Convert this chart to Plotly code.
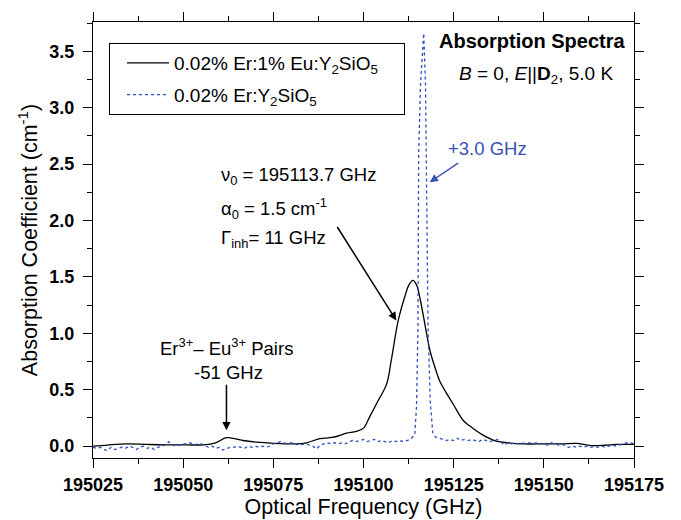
import plotly.graph_objects as go

# ---------------- data ----------------
er_eu_freq = [195025, 195029, 195034.3, 195040, 195045, 195049, 195055.6, 195059,
              195062, 195064.5, 195066.6, 195070.3, 195075, 195081.4, 195084.2, 195087.9,
              195090.7, 195093, 195095.3, 195098, 195100, 195101.7, 195104, 195106.4,
              195107.7, 195109.6, 195111.4, 195112.6, 195113.7, 195114.7, 195115.6,
              195117.0, 195118.4, 195119.8, 195121.1, 195123, 195124.8, 195127.6,
              195129.4, 195133, 195136.8, 195140, 195144.2, 195150, 195155, 195159,
              195163, 195167, 195170, 195175]
er_eu_alpha = [0.00, 0.01, 0.02, 0.015, 0.012, 0.012, 0.012, 0.03,
               0.075, 0.065, 0.05, 0.035, 0.025, 0.02, 0.03, 0.066,
               0.075, 0.09, 0.115, 0.13, 0.16, 0.26, 0.40, 0.55,
               0.76, 1.11, 1.32, 1.43, 1.47, 1.43, 1.32,
               1.085, 0.85, 0.70, 0.58, 0.47, 0.376, 0.23,
               0.18, 0.10, 0.045, 0.03, 0.02, 0.02, 0.02, 0.025,
               0.005, 0.008, 0.015, 0.015]

er_freq = list(range(195025, 195114)) + [195114.2, 195114.7, 195115.1, 195115.2, 195115.3,
           195115.8, 195116.7, 195117.2, 195117.4, 195117.8, 195117.9, 195118.5,
           195119.2, 195120.0] + list(range(195121, 195176))
er_alpha = [
    -0.01, -0.02, -0.01, -0.03, -0.04, -0.01, -0.03, -0.02, -0.01, -0.02,   # 025-034
    0.00, -0.01, -0.03, -0.01, 0.00, -0.02, -0.01, -0.03, -0.01, 0.00,      # 035-044
    0.01, 0.04, 0.01, 0.00, 0.01, 0.02, 0.02, 0.03, 0.01, 0.02,             # 045-054
    0.02, 0.01, -0.01, 0.00, -0.02, -0.01, -0.035, -0.02, -0.01, -0.01,     # 055-064
    0.00, -0.01, -0.02, 0.00, -0.01, 0.00, -0.01, 0.00, -0.01, 0.00,        # 065-074
    0.02, 0.03, 0.04, 0.03, 0.02, 0.03, 0.02, 0.01, 0.015, 0.02,            # 075-084
    0.01, 0.00, -0.025, 0.01, 0.02, 0.03, 0.02, 0.03, 0.02, 0.03,           # 085-094
    0.02, 0.04, 0.05, 0.04, 0.05, 0.06, 0.04, 0.05, 0.06, 0.04,             # 095-104
    0.05, 0.04, 0.03, 0.05, 0.04, 0.05, 0.04, 0.05, 0.06,                   # 105-113
    0.10, 0.35, 1.05, 1.80, 2.60, 3.20, 3.66, 3.20, 2.60, 1.80, 1.05, 0.40,  # peak
    0.12, 0.08,
    0.07, 0.06, 0.05, 0.06, 0.05, 0.07, 0.05, 0.06, 0.05, 0.06,             # 121-130
    0.05, 0.04, 0.06, 0.05, 0.04, 0.05, 0.06, 0.04, 0.01, 0.03,             # 131-140
    0.02, 0.03, 0.02, 0.03, 0.02, 0.03, 0.02, 0.03, 0.02, 0.02,             # 141-150
    0.01, 0.03, 0.02, 0.01, 0.02, 0.00, -0.01, 0.00, -0.01, 0.00,           # 151-160
    -0.01, 0.00, -0.01, 0.00, -0.01, 0.00, -0.01, 0.00, 0.01, 0.00,         # 161-170
    0.01, 0.02, 0.03, 0.03, 0.02,                                           # 171-175
]

x_ticks = [195025, 195050, 195075, 195100, 195125, 195150, 195175]
y_ticks = [0.0, 0.5, 1.0, 1.5, 2.0, 2.5, 3.0, 3.5]

# ---------------- figure ----------------
W, H = 681, 520
L, R, T, B = 93, 47, 22, 62
FONT = "Liberation Sans, Arial, sans-serif"


def px(xp, yp):
    return (xp - L) / (W - L - R), (H - B - yp) / (H - T - B)


fig = go.Figure()
fig.add_trace(go.Scatter(x=er_eu_freq, y=er_eu_alpha, mode="lines", line_shape="spline",
                         line=dict(color="black", width=1.3), legendgroup="a",
                         name="0.02% Er:1% Eu:Y<sub>2</sub>SiO<sub>5</sub>\u00a0\u00a0\u00a0\u00a0"))
fig.add_trace(go.Scatter(x=er_freq, y=er_alpha, mode="lines",
                         line=dict(color="#2f4fc0", width=1.3, dash="dot"), legendgroup="b",
                         name="0.02% Er:Y<sub>2</sub>SiO<sub>5</sub>"))

axis_common = dict(showline=True, linecolor="black", linewidth=1.3, mirror="ticks",
                   ticks="outside", ticklen=9, tickwidth=1.3, tickcolor="black",
                   showgrid=False, zeroline=False, automargin=False,
                   tickfont=dict(family=FONT, size=18, color="black", weight="bold"),
                   title_font=dict(family=FONT, size=21.5, color="black"))

fig.update_xaxes(range=[195025, 195175], tickvals=x_ticks,
                 ticktext=[str(v) for v in x_ticks], ticklabelstandoff=1,
                 minor=dict(ticks="outside", ticklen=5, tickwidth=1.2, tickcolor="black",
                            dtick=12.5, tick0=195025, showgrid=False),
                 title_text="Optical Frequency (GHz)", title_standoff=3, **axis_common)
fig.update_yaxes(range=[-0.105, 3.76], tickvals=y_ticks,
                 ticktext=[f"{v:.1f}" for v in y_ticks], ticklabelstandoff=5,
                 minor=dict(ticks="outside", ticklen=5, tickwidth=1.2, tickcolor="black",
                            dtick=0.25, tick0=0, showgrid=False),
                 title_text="Absorption Coefficient (cm<sup>-1</sup>)", title_standoff=5,
                 **axis_common)

lx, ly = px(109, 43)
fig.update_layout(
    width=W, height=H, margin=dict(l=L, r=R, t=T, b=B, autoexpand=False),
    paper_bgcolor="white", plot_bgcolor="white",
    font=dict(family=FONT, size=18, color="black"),
    legend=dict(x=lx, y=ly, xanchor="left", yanchor="top",
                bordercolor="black", borderwidth=1, bgcolor="white",
                font=dict(family=FONT, size=19, color="black"),
                itemwidth=42, tracegroupgap=4, indentation=12),
)


def text(xp, yp, s, anchor="left", size=18.5, color="black", **kw):
    x, y = px(xp, yp)
    fig.add_annotation(x=x, y=y, xref="paper", yref="paper", text=s, showarrow=False,
                       xanchor=anchor, yanchor="middle",
                       font=dict(family=FONT, size=size, color=color, **kw))


text(627, 41, "<b>Absorption Spectra</b>", anchor="right", size=20)
text(536, 75, "<i>B</i> = 0, <i>E</i>||<b>D</b><sub>2</sub>, 5.0 K", anchor="center", size=19)
text(446, 148, "+3.0 GHz", color="#3a52b4")
text(219, 176, "ν<sub>0</sub> = 195113.7 GHz")
text(219, 208, "α<sub>0</sub> = 1.5 cm<sup>-1</sup>")
text(219, 239, "Γ<sub>inh</sub>= 11 GHz")
text(226, 347, "Er<sup>3+</sup>– Eu<sup>3+</sup> Pairs", anchor="center")
text(228, 372, "-51 GHz", anchor="center")

# arrows
fig.add_annotation(x=195109.1, y=1.114, xref="x", yref="y", ax=-60, ay=-95,
                   showarrow=True, arrowhead=2, arrowsize=1.1, arrowwidth=1.5,
                   arrowcolor="black", text="")
fig.add_annotation(x=195118.35, y=2.34, xref="x", yref="y", ax=30, ay=-20,
                   showarrow=True, arrowhead=2, arrowsize=1.1, arrowwidth=1.5,
                   arrowcolor="#3a52b4", text="")
fig.add_annotation(x=195062.0, y=0.14, xref="x", yref="y", ax=0, ay=-47,
                   showarrow=True, arrowhead=2, arrowsize=1.1, arrowwidth=1.5,
                   arrowcolor="black", text="")

fig.write_html("out.html")
